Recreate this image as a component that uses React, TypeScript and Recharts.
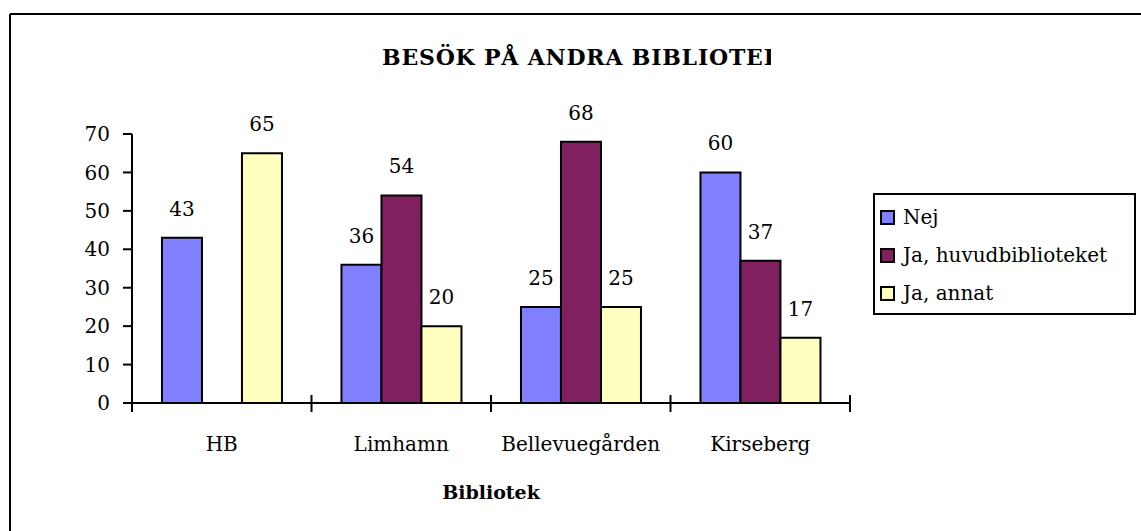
import React from 'react';
import { BarChart, Bar, XAxis, YAxis, Legend, LabelList } from 'recharts';

const categories = ['HB', 'Limhamn', 'Bellevuegården', 'Kirseberg'];
const nejValues = [43, 36, 25, 60];
const huvudValues: (number | null)[] = [null, 54, 68, 37];
const annatValues = [65, 20, 25, 17];
const yTicks = [0, 10, 20, 30, 40, 50, 60, 70];
const seriesNames = ['Nej', 'Ja, huvudbiblioteket', 'Ja, annat'];
const seriesColors = ['#8080FF', '#802060', '#FFFFC0'];
const titleText = 'BESÖK PÅ ANDRA BIBLIOTEK';
const xAxisTitle = 'Bibliotek';

const data = categories.map((name, i) => ({
  name,
  nej: nejValues[i],
  huvud: huvudValues[i],
  annat: annatValues[i],
}));

const W = 1141;
const H = 531;
const MARGIN = { top: 134, right: 291, bottom: 28, left: 0 };
const Y_WIDTH = 132;
const X_HEIGHT = 100;
const PLOT_W = W - MARGIN.left - MARGIN.right - Y_WIDTH;
const BAND = PLOT_W / categories.length;
const FONT = "'DejaVu Serif', serif";

const CategoryTick = (props: any) => {
  const { x, y, payload, index } = props;
  const left = x - BAND / 2;
  const right = x + BAND / 2;
  return (
    <g>
      <line x1={left} x2={left} y1={y - 8} y2={y + 9} stroke="#000" strokeWidth={2} />
      {index === categories.length - 1 && (
        <line x1={right} x2={right} y1={y - 8} y2={y + 9} stroke="#000" strokeWidth={2} />
      )}
      <text
        x={x}
        y={y + 41}
        textAnchor="middle"
        dominantBaseline="central"
        fontFamily={FONT}
        fontSize={20}
        fill="#000"
      >
        {payload.value}
      </text>
    </g>
  );
};

const renderLegend = (props: any) => {
  const payload = ((props && props.payload) || []).slice();
  payload.sort((a: any, b: any) => seriesNames.indexOf(a.value) - seriesNames.indexOf(b.value));
  return (
    <div
      style={{
        width: 259,
        height: 115,
        border: '2px solid #000',
        background: '#fff',
        fontFamily: FONT,
        fontSize: 20,
        color: '#000',
        paddingTop: 3,
        boxSizing: 'content-box',
      }}
    >
      {payload.map((entry: any, i: number) => (
        <div
          key={i}
          style={{ display: 'flex', alignItems: 'center', height: 38, paddingLeft: 5 }}
        >
          <span
            style={{
              display: 'inline-block',
              width: 11,
              height: 11,
              border: '2px solid #000',
              background: entry.color,
              marginRight: 8,
            }}
          />
          <span style={{ whiteSpace: 'nowrap', lineHeight: '20px' }}>{entry.value}</span>
        </div>
      ))}
    </div>
  );
};

export default function App() {
  return (
    <div style={{ position: 'absolute', left: 0, top: 0, width: W, height: H, background: '#fff', overflow: 'hidden' }}>
      <svg width={W} height={H} style={{ position: 'absolute', left: 0, top: 0 }}>
        <defs>
          <clipPath id="titleClip">
            <rect x={0} y={0} width={771} height={120} />
          </clipPath>
        </defs>
        <line x1={10} y1={14} x2={W} y2={14} stroke="#000" strokeWidth={2} />
        <line x1={10} y1={14} x2={10} y2={H} stroke="#000" strokeWidth={2} />
        <text
          x={382}
          y={57}
          dominantBaseline="central"
          fontFamily={FONT}
          fontWeight="bold"
          fontSize={22}
          letterSpacing={0.8}
          fill="#000"
          clipPath="url(#titleClip)"
        >
          {titleText}
        </text>
      </svg>
      <div style={{ position: 'absolute', left: 0, top: 0 }}>
        <BarChart
          width={W}
          height={H}
          data={data}
          margin={MARGIN}
          barCategoryGap="16.7%"
          barGap={0}
        >
          <XAxis
            dataKey="name"
            height={X_HEIGHT}
            interval={0}
            tickLine={false}
            tickSize={0}
            tickMargin={0}
            tick={<CategoryTick />}
            axisLine={{ stroke: '#000', strokeWidth: 2 }}
            label={{
              value: xAxisTitle,
              position: 'insideBottom',
              offset: 4,
              fontFamily: FONT,
              fontWeight: 'bold',
              fontSize: 19,
              fill: '#000',
            }}
          />
          <XAxis
            xAxisId="top"
            orientation="top"
            dataKey="name"
            height={0}
            tick={false}
            tickLine={false}
            axisLine={{ stroke: '#000', strokeWidth: 2 }}
          />
          <YAxis
            domain={[0, 70]}
            ticks={yTicks}
            interval={0}
            width={Y_WIDTH}
            tickSize={9}
            tickMargin={13}
            tick={{ fontFamily: FONT, fontSize: 20, fill: '#000' }}
            tickLine={{ stroke: '#000', strokeWidth: 2 }}
            axisLine={{ stroke: '#000', strokeWidth: 2 }}
          />
          <YAxis
            yAxisId="right"
            orientation="right"
            domain={[0, 70]}
            width={0}
            tick={false}
            tickLine={false}
            axisLine={{ stroke: '#000', strokeWidth: 2 }}
          />
          <Legend
            layout="vertical"
            align="center"
            verticalAlign="middle"
            wrapperStyle={{ left: 873, top: 193, width: 263, height: 121 }}
            content={renderLegend}
          />
          <Bar dataKey="nej" name={seriesNames[0]} fill={seriesColors[0]} stroke="#000" strokeWidth={2} isAnimationActive={false}>
            <LabelList dataKey="nej" position="top" offset={22} fill="#000" fontFamily={FONT} fontSize={20} />
          </Bar>
          <Bar dataKey="huvud" name={seriesNames[1]} fill={seriesColors[1]} stroke="#000" strokeWidth={2} isAnimationActive={false}>
            <LabelList dataKey="huvud" position="top" offset={22} fill="#000" fontFamily={FONT} fontSize={20} />
          </Bar>
          <Bar dataKey="annat" name={seriesNames[2]} fill={seriesColors[2]} stroke="#000" strokeWidth={2} isAnimationActive={false}>
            <LabelList dataKey="annat" position="top" offset={22} fill="#000" fontFamily={FONT} fontSize={20} />
          </Bar>
        </BarChart>
      </div>
    </div>
  );
}
